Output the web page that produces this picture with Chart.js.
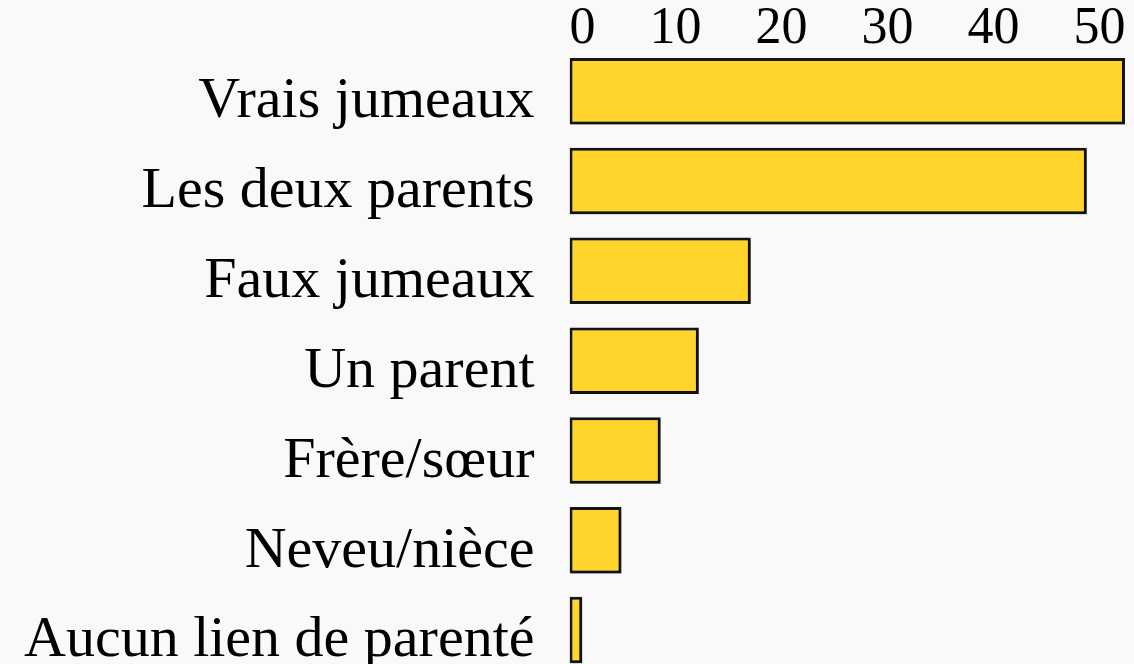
<!DOCTYPE html>
<html lang="fr">
<head>
    <meta charset="UTF-8">
    <title>Concordance - liens de parenté</title>
    <script src="https://cdn.jsdelivr.net/npm/chart.js"></script>
    <style>
        body {
            margin: 0;
            padding: 0;
            background-color: #f9f9f9;
            overflow: hidden;
        }

        .chart-box {
            position: relative;
            width: 1134px;
            height: 680px;
        }
    </style>
</head>
<body>

    <div class="chart-box">
        <canvas id="kinChart"></canvas>
    </div>

    <script>
        // categories, top to bottom
        var categories = ['Vrais jumeaux', 'Les deux parents', 'Faux jumeaux', 'Un parent',
                          'Frère/sœur', 'Neveu/nièce', 'Aucun lien de parenté'];
        // values (%)
        var values = [52.4, 48.8, 17.1, 12.2, 8.6, 4.9, 1.2];
        var tickValues = [0, 10, 20, 30, 40, 50];

        // soft grey drop shadow behind the bars, like the slide had
        var barShadow = {
            id: 'barShadow',
            beforeDatasetsDraw: function (chart) {
                var c = chart.ctx;
                c.save();
                c.shadowColor = 'rgba(0, 0, 0, 0.35)';
                c.shadowOffsetX = 1.5;
                c.shadowOffsetY = 1.5;
                c.shadowBlur = 1;
            },
            afterDatasetsDraw: function (chart) {
                chart.ctx.restore();
            }
        };

        var ctx = document.getElementById('kinChart').getContext('2d');

        var kinChart = new Chart(ctx, {
            type: 'bar',
            data: {
                labels: categories,
                datasets: [{
                    data: values,
                    backgroundColor: '#FFD52B',
                    borderColor: '#151515',
                    borderWidth: 3,
                    borderSkipped: false,
                    categoryPercentage: 1,
                    barPercentage: 0.74
                }]
            },
            plugins: [barShadow],
            options: {
                indexAxis: 'y',
                responsive: true,
                maintainAspectRatio: false,
                animation: false,
                layout: { padding: { top: 0, right: 0, bottom: 5, left: 0 } },
                plugins: {
                    legend: { display: false },
                    tooltip: { enabled: false }
                },
                scales: {
                    x: {
                        position: 'top',
                        min: 0,
                        max: 53.25,
                        grid: { display: false, drawTicks: false },
                        border: { display: false },
                        afterFit: function (scale) {
                            scale.height = 46.3;
                            scale.paddingLeft = 0;
                            scale.paddingRight = 0;
                        },
                        ticks: {
                            stepSize: 10,
                            includeBounds: false,
                            autoSkip: false,
                            maxRotation: 0,
                            align: 'end',
                            labelOffset: 26,
                            padding: 1,
                            color: '#000',
                            font: { family: '"Liberation Serif", serif', size: 52, lineHeight: 0.6 },
                            callback: function (v) {
                                return tickValues.indexOf(v) >= 0 ? String(v) : '';
                            }
                        }
                    },
                    y: {
                        grid: { display: false, drawTicks: false },
                        border: { display: false },
                        afterFit: function (scale) {
                            scale.width = 569.5;
                            // labels may hang past the plot edges; don't let them shrink it
                            scale.paddingTop = 0;
                            scale.paddingBottom = 0;
                        },
                        ticks: {
                            padding: 35,
                            labelOffset: 11,   // labels sit a little below the bar centres
                            color: '#000',
                            font: { family: '"Liberation Serif", serif', size: 58 }
                        }
                    }
                }
            }
        });
    </script>
</body>
</html>
